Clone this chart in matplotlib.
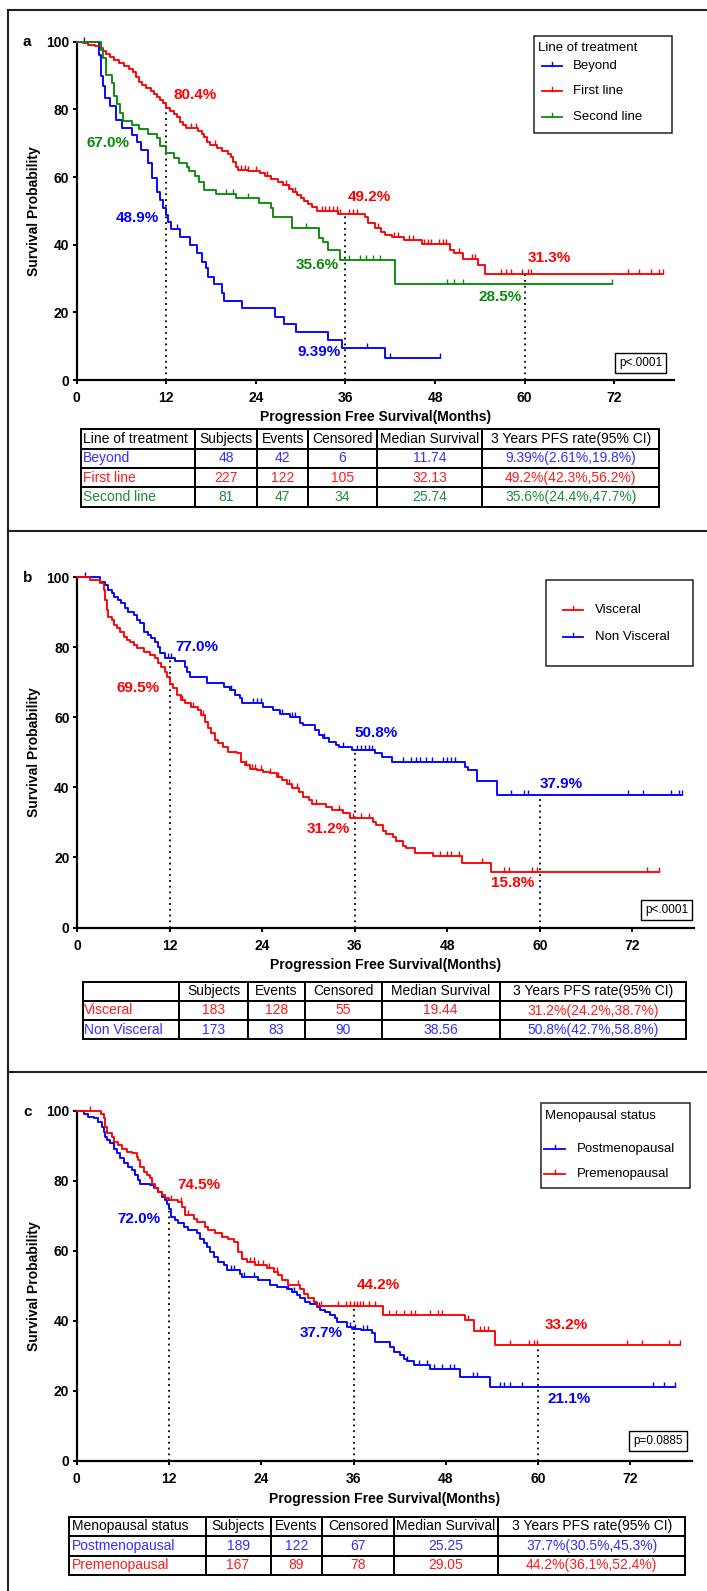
import matplotlib
matplotlib.use("Agg")
import matplotlib.pyplot as plt
import numpy as np
from matplotlib.lines import Line2D
from matplotlib.patches import Rectangle

# ---------------- data ----------------
# panel a: line of treatment
A_BEYOND_T = [3.0, 3.2, 3.5, 3.8, 4.5, 5.3, 6.05, 7.4, 8.1, 8.6, 9.5, 10.1, 10.7, 11.1, 11.6, 11.9,
              12.2, 12.6, 13.9, 15.2, 16.1, 16.8, 17.3, 17.6, 18.4, 19.5, 19.7, 22.1, 26.5, 27.8,
              29.4, 33.6, 35.5, 41.3]
A_BEYOND_S = [96.0, 90.0, 87.0, 83.3, 81.0, 76.8, 74.6, 72.4, 70.4, 68.0, 64.0, 59.6, 55.7, 53.2,
              50.7, 48.8, 46.8, 44.6, 42.4, 39.9, 37.4, 35.0, 33.0, 30.5, 28.3, 25.6, 23.4, 21.2,
              18.7, 16.5, 14.3, 11.8, 9.39, 6.4]
A_BEYOND_C = [1.0, 13.4, 38.9, 42.0, 48.7]

A_FIRST_T = [0.8, 1.5, 2.5, 3.2, 3.5, 3.9, 4.4, 5.0, 5.6, 6.3, 7.0, 7.5, 7.9, 8.3, 8.8, 9.3, 9.9,
             10.4, 10.8, 11.2, 11.6, 12.0, 12.5, 13.0, 13.4, 13.8, 14.2, 14.6, 16.3, 16.8, 17.1,
             17.5, 17.9, 18.8, 19.5, 20.2, 20.7, 21.0, 21.3, 21.6, 23.0, 24.5, 25.2, 26.0, 27.0,
             27.6, 28.4, 29.0, 29.5, 30.0, 30.5, 31.0, 31.5, 32.2, 35.0, 38.6, 39.0, 39.9, 40.8,
             41.3, 42.2, 43.9, 46.2, 50.0, 50.6, 51.8, 53.8, 54.7]
A_FIRST_S = [99.6, 99.1, 98.7, 98.2, 97.3, 96.4, 95.5, 94.6, 93.6, 92.7, 91.8, 90.9, 89.5, 88.2,
             87.3, 86.4, 85.4, 84.5, 83.6, 82.7, 81.8, 80.4, 79.5, 78.6, 77.7, 76.3, 75.4, 74.5,
             73.6, 72.7, 71.8, 70.4, 69.5, 68.6, 67.7, 66.8, 65.9, 64.5, 63.1, 62.2, 61.7, 61.2,
             60.3, 59.4, 58.5, 57.5, 56.6, 55.7, 54.7, 53.8, 52.9, 52.0, 51.0, 50.1, 49.2, 48.3,
             46.3, 44.8, 43.8, 42.9, 42.4, 41.4, 40.1, 38.4, 37.4, 35.8, 34.0, 31.3]
A_FIRST_C = [15.3, 16.0, 18.5, 22.0, 22.5, 23.0, 24.0, 25.5, 28.0, 28.4, 29.3, 32.8, 33.3, 33.8,
             34.3, 34.8, 35.3, 36.5, 37.0, 37.6, 40.3, 42.5, 43.0, 44.5, 45.0, 46.5, 47.0, 47.5,
             48.5, 49.0, 49.5, 51.2, 53.0, 53.4, 56.8, 57.5, 58.2, 59.7, 60.4, 60.9, 73.8, 75.3,
             76.9, 78.0, 78.5]

A_SECOND_T = [3.2, 3.5, 3.9, 4.7, 5.0, 5.4, 5.8, 6.2, 7.4, 8.3, 9.6, 10.8, 11.2, 12.0, 13.0, 13.7,
              14.8, 15.0, 15.9, 16.4, 17.0, 18.6, 21.3, 24.4, 26.0, 26.3, 28.9, 32.5, 33.0, 33.6,
              35.2, 42.6]
A_SECOND_S = [97.5, 95.1, 90.1, 87.7, 84.0, 81.5, 79.0, 76.5, 75.3, 74.1, 72.8, 71.6, 69.1, 67.0,
              65.5, 64.2, 63.0, 61.7, 60.4, 58.6, 56.2, 54.9, 53.7, 52.2, 50.7, 48.3, 45.0, 42.1,
              40.9, 38.4, 35.6, 28.5]
A_SECOND_C = [20.0, 20.9, 22.9, 30.7, 36.5, 37.9, 38.8, 39.7, 40.6, 49.6, 50.6, 51.7, 71.7]

# panel b: visceral metastasis
B_VISC_T = [1.6, 2.9, 3.4, 3.6, 3.8, 4.0, 4.5, 4.7, 5.1, 5.5, 6.0, 6.4, 6.8, 7.3, 7.7, 8.6, 9.4,
            10.1, 10.5, 10.9, 11.4, 11.7, 12.0, 12.4, 12.9, 13.5, 14.0, 14.8, 15.7, 16.1, 16.6,
            17.0, 17.4, 17.9, 18.3, 18.9, 19.6, 20.7, 21.3, 21.7, 22.4, 23.3, 24.1, 25.0, 25.9,
            26.5, 27.2, 27.8, 28.7, 29.3, 30.0, 30.4, 32.3, 33.0, 34.5, 35.4, 38.4, 38.8, 39.7,
            40.1, 41.0, 41.4, 42.3, 42.7, 43.8, 46.2, 49.9, 53.7]
B_VISC_S = [99.2, 98.3, 96.4, 93.5, 90.7, 88.8, 87.8, 86.4, 85.4, 84.5, 83.0, 82.1, 81.6, 80.7,
            79.7, 78.8, 77.8, 76.9, 75.4, 74.5, 73.0, 71.5, 69.5, 68.5, 66.4, 65.0, 64.0, 63.0,
            62.1, 60.7, 58.8, 56.9, 55.4, 53.5, 52.6, 51.6, 50.2, 49.7, 47.3, 46.4, 45.4, 45.0,
            44.5, 44.0, 43.0, 42.1, 41.1, 39.7, 38.8, 37.3, 36.4, 35.4, 34.5, 33.5, 32.6, 31.2,
            30.2, 29.2, 27.6, 26.7, 25.7, 24.8, 23.3, 22.6, 21.4, 20.5, 18.5, 15.8]
B_VISC_C = [13.6, 15.0, 16.3, 21.9, 22.6, 23.0, 23.8, 25.0, 26.0, 27.5, 28.5, 31.0, 34.0, 35.8,
            36.8, 37.8, 47.0, 48.0, 48.5, 49.5, 52.5, 55.3, 56.0, 59.0, 59.6, 73.9, 75.4]

B_NONV_T = [2.9, 3.6, 4.0, 4.5, 4.7, 5.3, 5.7, 6.2, 6.6, 7.3, 7.7, 8.1, 8.6, 9.2, 9.6, 10.1, 10.5,
            10.7, 11.4, 12.7, 14.0, 14.2, 14.6, 16.8, 19.0, 19.8, 20.4, 21.1, 21.4, 24.1, 25.4,
            26.3, 27.6, 28.9, 29.3, 30.8, 31.3, 31.9, 32.6, 33.6, 33.9, 35.6, 38.6, 39.5, 40.8,
            50.3, 50.7, 51.8, 54.4]
B_NONV_S = [98.8, 97.8, 96.4, 95.4, 94.5, 93.5, 92.6, 91.1, 90.2, 89.2, 87.8, 86.9, 84.5, 83.5,
            82.6, 81.6, 80.2, 78.3, 77.0, 76.2, 74.5, 73.0, 71.6, 69.7, 68.8, 67.8, 66.4, 65.4,
            64.0, 63.0, 62.1, 61.1, 60.2, 58.3, 57.8, 56.4, 54.9, 54.0, 53.0, 52.1, 51.6, 50.8,
            49.7, 48.8, 47.3, 45.9, 44.9, 41.9, 37.9]
B_NONV_C = [1.0, 11.8, 12.2, 20.0, 22.8, 23.3, 23.8, 26.5, 27.8, 28.3, 32.0, 34.5, 36.3, 36.8,
            37.3, 37.8, 38.2, 42.3, 43.3, 44.0, 44.5, 45.2, 46.0, 47.5, 48.0, 48.5, 49.0, 56.3,
            57.9, 58.5, 71.5, 73.4, 77.0, 78.0, 78.4]

# panel c: menopausal status
C_POST_T = [0.9, 1.5, 2.2, 2.8, 3.3, 3.5, 3.7, 3.9, 4.3, 4.8, 5.2, 5.6, 6.1, 6.7, 7.2, 7.6, 8.0,
            8.2, 9.5, 10.0, 10.6, 11.1, 11.5, 11.7, 12.0, 12.3, 12.8, 13.2, 13.9, 14.5, 15.6, 16.0,
            16.5, 16.9, 17.3, 17.8, 18.4, 19.1, 19.5, 21.2, 21.5, 23.6, 25.1, 26.0, 27.3, 28.0,
            28.6, 29.0, 29.7, 30.3, 31.2, 31.6, 32.3, 32.9, 33.6, 33.8, 35.1, 35.8, 37.0, 38.4,
            38.8, 40.7, 41.2, 42.0, 42.5, 42.9, 43.8, 46.0, 49.8, 53.7]
C_POST_S = [99.2, 98.3, 97.8, 96.9, 95.4, 94.0, 92.6, 91.6, 90.7, 89.2, 87.8, 86.4, 85.0, 84.0,
            83.0, 81.6, 80.2, 79.2, 78.8, 77.8, 76.9, 75.4, 74.5, 73.5, 72.0, 69.7, 68.8, 67.8,
            66.9, 65.9, 65.0, 63.5, 62.1, 61.1, 59.7, 58.3, 56.9, 55.9, 54.5, 53.5, 52.6, 51.6,
            50.2, 49.7, 49.2, 48.3, 47.3, 46.4, 45.4, 44.7, 44.0, 43.0, 42.6, 41.6, 40.7, 39.7,
            38.3, 37.7, 37.3, 36.4, 34.0, 32.6, 31.1, 30.2, 29.2, 28.5, 27.5, 26.4, 24.0, 21.1]
C_POST_C = [20.0, 20.5, 21.8, 23.0, 27.5, 28.2, 31.5, 35.5, 36.2, 37.2, 37.8, 43.0, 44.5, 45.5,
            46.5, 47.5, 48.5, 49.0, 51.5, 52.0, 55.0, 55.5, 56.4, 57.9, 74.9, 76.4, 77.8]

C_PRE_T = [3.2, 3.5, 3.7, 3.9, 4.6, 4.8, 5.4, 5.9, 6.5, 7.2, 7.8, 8.0, 8.2, 8.7, 9.1, 9.5, 9.8,
           10.2, 10.6, 11.1, 11.5, 12.0, 13.2, 13.7, 14.1, 15.2, 15.6, 16.7, 17.1, 18.0, 18.9,
           19.7, 20.4, 21.0, 21.5, 22.1, 23.2, 24.7, 25.6, 26.2, 26.7, 27.5, 29.0, 29.5, 30.1,
           30.8, 31.2, 39.8, 50.5, 51.6, 54.4]
C_PRE_S = [99.0, 97.8, 95.4, 93.5, 92.6, 91.1, 90.2, 89.2, 88.3, 87.8, 86.9, 85.9, 84.0, 82.6,
           81.6, 80.7, 79.2, 77.8, 76.9, 75.9, 75.0, 74.5, 74.0, 72.6, 70.2, 69.2, 68.3, 66.9,
           65.9, 65.0, 64.0, 63.5, 62.6, 59.7, 57.8, 56.9, 55.9, 55.0, 54.0, 53.0, 51.6, 50.2,
           49.2, 47.8, 46.4, 45.4, 44.2, 41.8, 40.2, 37.0, 33.2]
C_PRE_C = [1.7, 12.3, 13.5, 14.5, 22.5, 23.0, 23.6, 24.2, 25.0, 26.0, 28.8, 31.8, 34.0, 35.0,
           35.5, 36.0, 36.4, 36.8, 37.2, 38.0, 38.8, 40.6, 41.5, 42.5, 43.5, 44.0, 46.0, 47.0,
           47.5, 50.9, 52.5, 53.0, 53.5, 56.4, 58.8, 59.4, 59.9, 71.5, 73.5, 77.0, 78.4]

RED, BLUE, GREEN = "#ff0000", "#0000ff", "#0a8a0a"
T_RED, T_BLUE, T_GREEN = "#ff1a1a", "#3030ff", "#1e8a3a"

A_LEGEND_TITLE = "Line of treatment"
A_GROUPS = ["Beyond", "First line", "Second line"]
B_GROUPS = ["Visceral", "Non Visceral"]
C_LEGEND_TITLE = "Menopausal status"
C_GROUPS = ["Postmenopausal", "Premenopausal"]

A_NOTES = ["80.4%", "67.0%", "48.9%", "9.39%", "35.6%", "49.2%", "31.3%", "28.5%"]
B_NOTES = ["77.0%", "69.5%", "50.8%", "31.2%", "37.9%", "15.8%"]
C_NOTES = ["74.5%", "72.0%", "44.2%", "37.7%", "33.2%", "21.1%"]

P_VALUES = ["p<.0001", "p<.0001", "p=0.0885"]

TABLE_COLS = ["Subjects", "Events", "Censored", "Median Survival", "3 Years PFS rate(95% CI)"]
A_TABLE = [["Beyond", "48", "42", "6", "11.74", "9.39%(2.61%,19.8%)"],
           ["First line", "227", "122", "105", "32.13", "49.2%(42.3%,56.2%)"],
           ["Second line", "81", "47", "34", "25.74", "35.6%(24.4%,47.7%)"]]
B_TABLE = [["Visceral", "183", "128", "55", "19.44", "31.2%(24.2%,38.7%)"],
           ["Non Visceral", "173", "83", "90", "38.56", "50.8%(42.7%,58.8%)"]]
C_TABLE = [["Postmenopausal", "189", "122", "67", "25.25", "37.7%(30.5%,45.3%)"],
           ["Premenopausal", "167", "89", "78", "29.05", "44.2%(36.1%,52.4%)"]]

# ---------------- layout ----------------
plt.rcParams["font.family"] = ["Liberation Sans", "DejaVu Sans"]
W, H = 707, 1591
fig = plt.figure(figsize=(W / 100, H / 100), dpi=100)


def fx(x):
    return x / W


def fy(y):
    return 1 - y / H


def surv_at(t, s, x):
    i = np.searchsorted(t, x, side="right")
    return 100.0 if i == 0 else s[i - 1]


def km_panel(rect, curves, notes, note_pos, letter, letter_xy, pval, pbox):
    l, t, r, b = rect
    ax = fig.add_axes([fx(l), fy(b), (r - l) / W, (b - t) / H])
    for times, surv, cens, color in curves:
        xs = [0] + times + [max(cens)]
        ys = [100] + surv + [surv[-1]]
        ax.step(xs, ys, where="post", color=color, lw=1.35, clip_on=False, zorder=3)
        cy = [surv_at(times, surv, c) for c in cens]
        ax.plot(cens, cy, ls="none", marker=2, ms=3.5, mew=1.0, color=color,
                clip_on=False, zorder=3)
    # dotted guides at 1, 3 and 5 years
    for m in (12, 36, 60):
        h = max(surv_at(tt, ss, m) for tt, ss, cc, _ in curves if max(cc) >= m)
        ax.plot([m, m], [0, h], color="black", lw=1.3, ls=(0, (1, 2.2)), zorder=2)
    for txt, (x, y, col) in zip(notes, note_pos):
        ax.text(x, y, txt, color=col, fontsize=11, fontweight="bold", ha="center", va="center")

    ax.set_xlim(0, 80)
    ax.set_ylim(0, 100)
    ax.set_xticks([0, 12, 24, 36, 48, 60, 72])
    ax.set_yticks([0, 20, 40, 60, 80, 100])
    for sp in ("top", "right"):
        ax.spines[sp].set_visible(False)
    for sp in ("left", "bottom"):
        ax.spines[sp].set_linewidth(1.6)
    ax.tick_params(length=3, width=1.4, labelsize=10)
    ax.tick_params(axis="x", pad=5)
    ax.tick_params(axis="y", pad=2.5)
    for lab in ax.get_xticklabels() + ax.get_yticklabels():
        lab.set_fontweight("bold")
    ax.set_xlabel("Progression Free Survival(Months)", fontsize=10, fontweight="bold")
    ax.set_ylabel("Survival Probability", fontsize=10, fontweight="bold")
    ax.xaxis.label.set_va("center")
    ax.yaxis.label.set_va("center")
    ax.xaxis.set_label_coords(0.5, -37.5 / (b - t))
    ax.yaxis.set_label_coords(-(l - 34) / (r - l), 0.5)

    fig.text(fx(letter_xy[0]), fy(letter_xy[1]), letter, fontsize=11, fontweight="bold",
             ha="center", va="center")
    px, py = pbox
    fig.text(fx(px), fy(py), pval, fontsize=8.5, ha="center", va="center",
             bbox=dict(boxstyle="square,pad=0.35", fc="white", ec="black", lw=1.0))
    return ax


def legend_box(box, title, title_xy, hx, tx, entries):
    l, t, r, b = box
    fig.add_artist(Rectangle((fx(l), fy(b)), (r - l) / W, (b - t) / H, transform=fig.transFigure,
                             fc="white", ec="#222222", lw=1.1, zorder=5))
    if title:
        fig.text(fx(title_xy[0]), fy(title_xy[1]), title, fontsize=9.5, ha="left", va="center",
                 zorder=6)
    for label, color, y in entries:
        fig.add_artist(Line2D([fx(hx[0]), fx(hx[1])], [fy(y), fy(y)], transform=fig.transFigure,
                              color=color, lw=1.3, zorder=6))
        hc = (hx[0] + hx[1]) / 2
        fig.add_artist(Line2D([fx(hc), fx(hc)], [fy(y), fy(y - 4)], transform=fig.transFigure,
                              color=color, lw=1.0, zorder=6))
        fig.text(fx(tx), fy(y), label, fontsize=9.5, ha="left", va="center", zorder=6)


def summary_table(rect, edges, first_header, rows, colors):
    l, t, r, b = rect
    tax = fig.add_axes([fx(l), fy(b), (r - l) / W, (b - t) / H])
    tax.axis("off")
    widths = list(np.diff(edges) / (r - l))
    tb = tax.table(cellText=[[first_header] + TABLE_COLS] + rows, colWidths=widths,
                   cellLoc="center", bbox=[0, 0, 1, 1])
    tb.auto_set_font_size(False)
    tb.set_fontsize(10)
    for (i, j), cell in tb.get_celld().items():
        cell.set_linewidth(1.4)
        txt = cell.get_text()
        if i > 0:
            txt.set_color(colors[i - 1])
        if j == 0:
            cell._loc = "left"
            cell.PAD = 0.02
            txt.set_ha("left")


# panel a
km_panel((76.7, 41.7, 674, 380),
         [(A_BEYOND_T, A_BEYOND_S, A_BEYOND_C, BLUE),
          (A_FIRST_T, A_FIRST_S, A_FIRST_C, RED),
          (A_SECOND_T, A_SECOND_S, A_SECOND_C, GREEN)],
         A_NOTES,
         [(15.85, 84.2, RED), (4.25, 70.0, GREEN), (8.15, 47.8, BLUE), (32.5, 8.4, BLUE),
          (32.25, 34.0, GREEN), (39.2, 54.0, RED), (63.25, 36.0, RED), (56.65, 24.4, GREEN)],
         "a", (27, 42.3), P_VALUES[0], (640.7, 362.7))
legend_box((534, 35.7, 672, 133.3), A_LEGEND_TITLE, (538, 47.7), (541.5, 561.5), 573,
           [(A_GROUPS[0], BLUE, 65.7), (A_GROUPS[1], RED, 91.0), (A_GROUPS[2], GREEN, 116.7)])
summary_table((81, 429.3, 659, 506.7), [81, 195, 257, 308.4, 376.5, 482.4, 659],
              A_LEGEND_TITLE, A_TABLE, [T_BLUE, T_RED, T_GREEN])

# panel b
km_panel((77.3, 577.3, 694, 927.5),
         [(B_NONV_T, B_NONV_S, B_NONV_C, BLUE),
          (B_VISC_T, B_VISC_S, B_VISC_C, RED)],
         B_NOTES,
         [(15.5, 80.0, BLUE), (7.85, 68.3, RED), (38.8, 55.4, BLUE), (32.55, 28.1, RED),
          (62.8, 41.1, BLUE), (56.45, 12.6, RED)],
         "b", (28, 578), P_VALUES[1], (666.5, 909.7))
legend_box((546.4, 580, 693, 665.7), None, None, (562.7, 583.3), 595,
           [(B_GROUPS[0], RED, 610.0), (B_GROUPS[1], BLUE, 636.7)])
summary_table((82.5, 981.7, 686, 1039.3), [82.5, 179, 248, 305, 382, 499.5, 686],
              "", B_TABLE, [T_RED, T_BLUE])

# panel c
km_panel((76.7, 1110.7, 692, 1461),
         [(C_POST_T, C_POST_S, C_POST_C, BLUE),
          (C_PRE_T, C_PRE_S, C_PRE_C, RED)],
         C_NOTES,
         [(15.95, 78.8, RED), (8.15, 69.2, BLUE), (39.2, 50.2, RED), (31.75, 36.6, BLUE),
          (63.7, 38.8, RED), (64.05, 17.6, BLUE)],
         "c", (28, 1112), P_VALUES[2], (657.9, 1440.7))
legend_box((541, 1103.3, 690, 1188), C_LEGEND_TITLE, (545, 1115.7), (544.3, 565), 576.7,
           [(C_GROUPS[0], BLUE, 1149.0), (C_GROUPS[1], RED, 1174.0)])
summary_table((69, 1516.7, 685.3, 1575), [69, 205.6, 270.5, 322.4, 393.6, 498.2, 685.3],
              C_LEGEND_TITLE, C_TABLE, [T_BLUE, T_RED])

# outer frame and panel separators
for y in (10, 531, 1072.3):
    fig.add_artist(Line2D([fx(8), 1], [fy(y), fy(y)], transform=fig.transFigure,
                          color="#222222", lw=1.5))
fig.add_artist(Line2D([fx(8), fx(8)], [fy(10), 0], transform=fig.transFigure,
                      color="#222222", lw=1.5))

fig.savefig("out.png", dpi=100)
